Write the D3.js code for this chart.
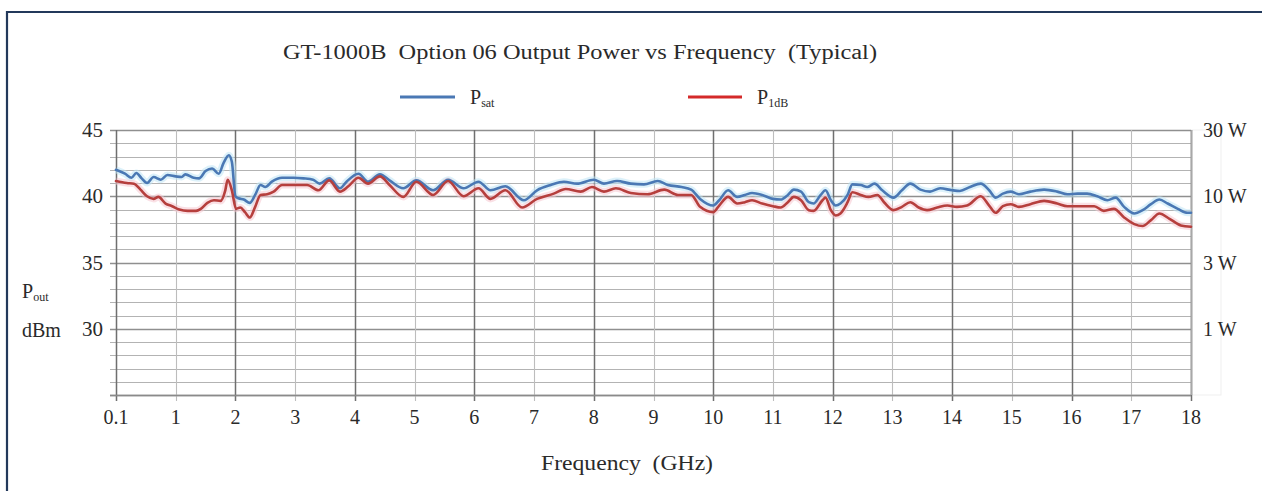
<!DOCTYPE html>
<html>
<head>
<meta charset="utf-8">
<script src="https://cdn.jsdelivr.net/npm/d3@7"></script>
<style>
  html, body { margin: 0; padding: 0; background: #fff; overflow: hidden; }
  svg { display: block; }
  text { font-family: "Liberation Serif", "DejaVu Serif", serif; fill: #2a2a2a; white-space: pre; }
</style>
</head>
<body>
<svg id="chart" width="1262" height="491"></svg>
<script>
// ---------- data ----------
const titleText = "GT-1000B  Option 06 Output Power vs Frequency  (Typical)";
const xTitleText = "Frequency  (GHz)";
const xTickValues = [0,1,2,3,4,5,6,7,8,9,10,11,12,13,14,15,16,17,18];
const xTickLabels = ["0.1","1","2","3","4","5","6","7","8","9","10","11","12","13","14","15","16","17","18"];
const yTickValues = [45,40,35,30];
const yTickLabels = ["45","40","35","30"];
const wattTickValues = [45,40,35,30];
const wattTickLabels = ["30 W","10 W","3 W","1 W"];

const psatFreq = [0.0,0.15,0.26,0.34,0.43,0.52,0.63,0.75,0.86,1.0,1.1,1.16,1.3,1.39,1.5,1.61,1.72,1.8,1.89,1.94,
  2.0,2.05,2.14,2.24,2.33,2.42,2.5,2.61,2.78,2.97,3.14,3.3,3.41,3.57,3.75,3.86,4.06,4.22,4.42,4.58,
  4.81,5.03,5.31,5.56,5.82,6.07,6.27,6.52,6.83,7.05,7.28,7.5,7.72,8.0,8.17,8.39,8.62,8.84,9.07,9.24,
  9.47,9.63,9.78,10.0,10.1,10.25,10.4,10.53,10.65,10.82,11.0,11.13,11.25,11.35,11.47,11.6,11.68,11.8,11.88,11.97,
  12.05,12.13,12.25,12.33,12.47,12.58,12.7,12.83,13.02,13.16,13.3,13.47,13.63,13.8,14.0,14.13,14.3,14.48,14.62,14.73,
  14.85,14.98,15.12,15.31,15.54,15.76,15.93,16.1,16.26,16.43,16.6,16.74,16.88,17.05,17.19,17.33,17.47,17.61,17.78,17.94,18.0];
const psatValues = [42.0,41.7,41.4,41.75,41.35,41.0,41.45,41.25,41.6,41.5,41.45,41.65,41.4,41.35,41.9,42.1,41.7,42.5,43.1,42.6,
  40.0,39.85,39.75,39.5,40.1,40.85,40.7,41.1,41.4,41.4,41.35,41.25,40.95,41.35,40.6,41.1,41.7,41.1,41.65,41.2,
  40.6,41.2,40.45,41.25,40.6,41.1,40.45,40.75,39.7,40.45,40.85,41.1,40.95,41.25,40.95,41.15,40.95,40.9,41.15,40.85,
  40.7,40.5,39.8,39.3,39.7,40.45,39.95,40.1,40.25,40.1,39.8,39.75,40.1,40.5,40.35,39.55,39.45,40.1,40.45,39.7,
  39.3,39.45,40.1,40.9,40.85,40.7,40.95,40.45,39.9,40.45,40.95,40.5,40.35,40.6,40.45,40.4,40.7,40.95,40.45,39.9,
  40.2,40.35,40.15,40.35,40.5,40.35,40.15,40.2,40.2,40.0,39.7,39.9,39.2,38.7,38.95,39.4,39.75,39.45,39.05,38.75,38.75];

const p1dbFreq = [0.0,0.18,0.3,0.41,0.52,0.63,0.71,0.83,0.94,1.06,1.2,1.34,1.42,1.53,1.64,1.75,1.83,1.87,1.94,
  2.01,2.08,2.16,2.24,2.33,2.42,2.53,2.64,2.78,2.97,3.2,3.39,3.57,3.75,3.89,4.06,4.22,4.42,4.58,
  4.81,5.03,5.31,5.56,5.82,6.07,6.27,6.52,6.8,7.05,7.33,7.53,7.78,7.97,8.17,8.37,8.62,8.9,9.18,9.41,
  9.63,9.78,10.0,10.1,10.25,10.4,10.53,10.65,10.82,11.0,11.13,11.25,11.35,11.47,11.6,11.68,11.83,11.88,11.97,
  12.05,12.13,12.25,12.33,12.47,12.6,12.75,12.86,13.02,13.16,13.3,13.44,13.58,13.75,13.92,14.08,14.25,14.48,14.62,14.73,
  14.85,14.98,15.12,15.31,15.54,15.76,15.93,16.1,16.38,16.54,16.71,16.88,17.05,17.19,17.33,17.47,17.64,17.83,18.0];
const p1dbValues = [41.15,41.0,40.95,40.5,40.0,39.8,39.95,39.45,39.25,39.0,38.9,38.9,39.05,39.5,39.7,39.65,40.45,41.25,40.45,
  39.05,39.15,38.8,38.4,39.2,40.1,40.15,40.35,40.85,40.85,40.85,40.45,41.2,40.35,40.75,41.4,40.95,41.5,40.85,
  39.95,41.1,40.1,41.15,40.0,40.6,39.8,40.45,39.15,39.8,40.2,40.55,40.35,40.7,40.35,40.6,40.25,40.15,40.5,40.1,
  40.1,39.2,38.8,39.3,39.95,39.45,39.55,39.7,39.45,39.25,39.15,39.55,39.95,39.7,38.95,38.9,39.7,39.9,38.95,
  38.55,38.7,39.55,40.3,40.1,39.95,40.1,39.55,38.95,39.2,39.55,39.15,38.95,39.15,39.3,39.2,39.3,40.0,39.3,38.75,
  39.25,39.4,39.2,39.4,39.65,39.45,39.25,39.25,39.25,38.9,39.05,38.4,37.9,37.75,38.2,38.7,38.3,37.8,37.7];

// ---------- drawing ----------
const svg = d3.select("#chart");
const plot = { left: 116, right: 1191, top: 130, bottom: 395 };

const x = d3.scaleLinear().domain([0, 18]).range([plot.left, plot.right]);
const y = d3.scaleLinear().domain([25, 45]).range([plot.bottom, plot.top]);

// frame border (top and left edges only are visible)
svg.append("line").attr("x1", 6).attr("x2", 1262).attr("y1", 12).attr("y2", 12)
  .attr("stroke", "#23395b").attr("stroke-width", 2.2);
svg.append("line").attr("x1", 7).attr("x2", 7).attr("y1", 11).attr("y2", 491)
  .attr("stroke", "#23395b").attr("stroke-width", 2.2);

// faint extension box at right of plot
svg.append("rect")
  .attr("x", plot.right).attr("y", plot.top)
  .attr("width", 30).attr("height", plot.bottom - plot.top)
  .attr("fill", "none").attr("stroke", "#efefef").attr("stroke-width", 1);

// horizontal grid
const hVals = d3.range(25, 46, 1);
svg.append("g").selectAll("line").data(hVals).join("line")
  .attr("x1", plot.left - 6).attr("x2", plot.right)
  .attr("y1", d => Math.round(y(d)) + 0.5).attr("y2", d => Math.round(y(d)) + 0.5)
  .attr("stroke", d => d % 5 === 0 ? "#8f8f8f" : "#b3b3b3")
  .attr("stroke-width", d => d % 5 === 0 ? 1.4 : 1.1);

// vertical grid
svg.append("g").selectAll("line").data(xTickValues).join("line")
  .attr("x1", d => Math.round(x(d)) + 0.5).attr("x2", d => Math.round(x(d)) + 0.5)
  .attr("y1", plot.top).attr("y2", plot.bottom + 6)
  .attr("stroke", d => (d % 2 === 0 && d > 0) ? "#6f6f6f" : "#bdbdbd")
  .attr("stroke-width", d => (d % 2 === 0 && d > 0) ? 1.5 : 1.1);

// axis lines
svg.append("line").attr("x1", plot.left + 0.5).attr("x2", plot.left + 0.5)
  .attr("y1", plot.top).attr("y2", plot.bottom + 6).attr("stroke", "#6f6f6f").attr("stroke-width", 1.5);
svg.append("line").attr("x1", plot.left - 6).attr("x2", plot.right)
  .attr("y1", plot.bottom + 0.5).attr("y2", plot.bottom + 0.5).attr("stroke", "#8a8a8a").attr("stroke-width", 1.5);
svg.append("line").attr("x1", plot.right + 0.5).attr("x2", plot.right + 0.5)
  .attr("y1", plot.top).attr("y2", plot.bottom).attr("stroke", "#a8a8a8").attr("stroke-width", 1.5);

// series
const line = d3.line().x(d => x(d[0])).y(d => y(d[1])).curve(d3.curveMonotoneX);
const psat = psatFreq.map((f, i) => [f, psatValues[i]]);
const p1db = p1dbFreq.map((f, i) => [f, p1dbValues[i]]);

const series = [
  { data: psat, color: "#4a78b4", halo: "#bfe6f5" },
  { data: p1db, color: "#b63f3d", halo: "#f6c6cf" }
];
series.forEach(s => {
  svg.append("path").datum(s.data).attr("d", line)
    .attr("fill", "none").attr("stroke", s.halo).attr("stroke-width", 7)
    .attr("stroke-opacity", 0.55).attr("stroke-linejoin", "round");
});
series.forEach(s => {
  svg.append("path").datum(s.data).attr("d", line)
    .attr("fill", "none").attr("stroke", s.color).attr("stroke-width", 2.6)
    .attr("stroke-linejoin", "round").attr("stroke-linecap", "round");
});

// title
svg.append("text").attr("x", 283).attr("y", 59)
  .attr("font-size", 20).attr("textLength", 594).attr("lengthAdjust", "spacingAndGlyphs")
  .text(titleText);

// legend
const legend = [
  { x1: 400, x2: 455, color: "#4a78b4", tx: 470, main: "P", sub: "sat" },
  { x1: 688, x2: 742, color: "#d42a2a", tx: 757, main: "P", sub: "1dB" }
];
legend.forEach(l => {
  svg.append("line").attr("x1", l.x1).attr("x2", l.x2).attr("y1", 97).attr("y2", 97)
    .attr("stroke", l.color).attr("stroke-width", 3);
  const t = svg.append("text").attr("x", l.tx).attr("y", 104).attr("font-size", 20);
  t.append("tspan").text(l.main);
  t.append("tspan").attr("font-size", 12).attr("dy", 3).text(l.sub);
});

// left y tick labels
svg.append("g").selectAll("text").data(yTickValues).join("text")
  .attr("x", 103).attr("y", d => y(d) + 7)
  .attr("text-anchor", "end").attr("font-size", 21)
  .text((d, i) => yTickLabels[i]);

// right watt labels
svg.append("g").selectAll("text").data(wattTickValues).join("text")
  .attr("x", 1203).attr("y", d => y(d) + 7)
  .attr("font-size", 20)
  .text((d, i) => wattTickLabels[i]);

// y axis title
const pt = svg.append("text").attr("x", 22).attr("y", 298).attr("font-size", 20);
pt.append("tspan").text("P");
pt.append("tspan").attr("font-size", 12).attr("dy", 3).text("out");
svg.append("text").attr("x", 22).attr("y", 337).attr("font-size", 20).text("dBm");

// x tick labels
svg.append("g").selectAll("text").data(xTickValues).join("text")
  .attr("x", d => x(d)).attr("y", 424)
  .attr("text-anchor", "middle").attr("font-size", 20)
  .text((d, i) => xTickLabels[i]);

// x axis title
svg.append("text").attr("x", 541).attr("y", 470)
  .attr("font-size", 20).attr("textLength", 172).attr("lengthAdjust", "spacingAndGlyphs")
  .text(xTitleText);
</script>
</body>
</html>
